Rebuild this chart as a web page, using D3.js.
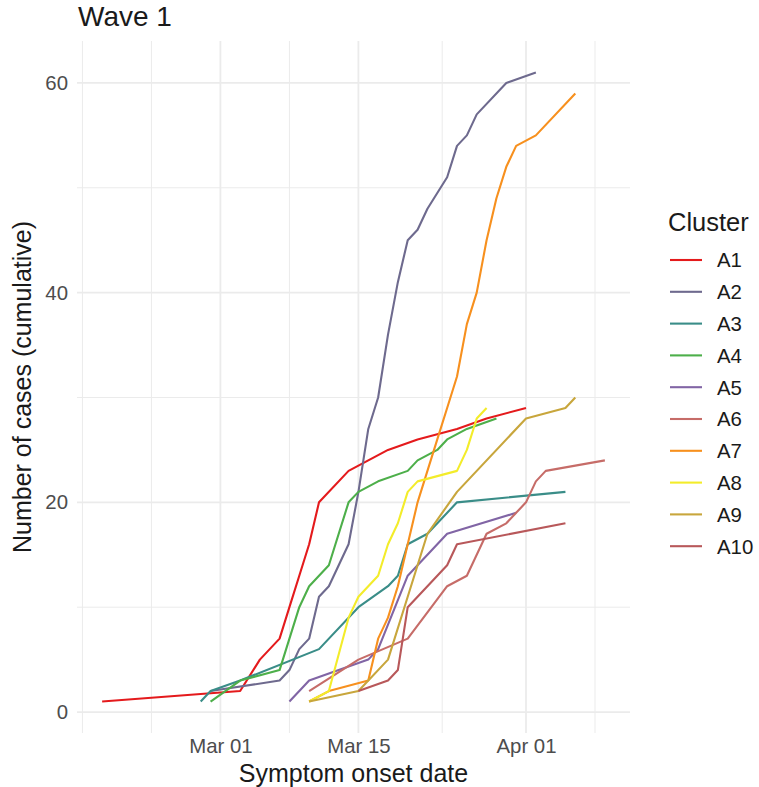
<!DOCTYPE html>
<html>
<head>
<meta charset="utf-8">
<script src="https://cdn.jsdelivr.net/npm/d3@7"></script>
<style>
  body { margin: 0; background: #fff; }
  text { font-family: "Liberation Sans", Arial, sans-serif; }
</style>
</head>
<body>
<svg width="759" height="787"></svg>
<script>
// cumulative cases per cluster, [onset date, cases]
var A1  = [["2020-02-18",1],["2020-03-03",2],["2020-03-05",5],["2020-03-07",7],["2020-03-08",10],["2020-03-09",13],["2020-03-10",16],["2020-03-11",20],["2020-03-14",23],["2020-03-16",24],["2020-03-18",25],["2020-03-21",26],["2020-03-25",27],["2020-03-28",28],["2020-04-01",29]];
var A2  = [["2020-02-29",2],["2020-03-07",3],["2020-03-08",4],["2020-03-09",6],["2020-03-10",7],["2020-03-11",11],["2020-03-12",12],["2020-03-14",16],["2020-03-15",21],["2020-03-16",27],["2020-03-17",30],["2020-03-18",36],["2020-03-19",41],["2020-03-20",45],["2020-03-21",46],["2020-03-22",48],["2020-03-24",51],["2020-03-25",54],["2020-03-26",55],["2020-03-27",57],["2020-03-30",60],["2020-04-02",61]];
var A3  = [["2020-02-28",1],["2020-02-29",2],["2020-03-03",3],["2020-03-11",6],["2020-03-15",10],["2020-03-18",12],["2020-03-19",13],["2020-03-20",16],["2020-03-22",17],["2020-03-25",20],["2020-04-05",21]];
var A4  = [["2020-02-29",1],["2020-03-03",3],["2020-03-07",4],["2020-03-08",7],["2020-03-09",10],["2020-03-10",12],["2020-03-12",14],["2020-03-14",20],["2020-03-15",21],["2020-03-17",22],["2020-03-20",23],["2020-03-21",24],["2020-03-23",25],["2020-03-24",26],["2020-03-26",27],["2020-03-29",28]];
var A5  = [["2020-03-08",1],["2020-03-10",3],["2020-03-16",5],["2020-03-17",6],["2020-03-20",13],["2020-03-24",17],["2020-03-31",19]];
var A6  = [["2020-03-10",2],["2020-03-15",5],["2020-03-20",7],["2020-03-24",12],["2020-03-26",13],["2020-03-28",17],["2020-03-30",18],["2020-03-31",19],["2020-04-01",20],["2020-04-02",22],["2020-04-03",23],["2020-04-09",24]];
var A7  = [["2020-03-10",1],["2020-03-12",2],["2020-03-16",3],["2020-03-17",7],["2020-03-18",9],["2020-03-19",12],["2020-03-20",16],["2020-03-21",20],["2020-03-23",26],["2020-03-24",29],["2020-03-25",32],["2020-03-26",37],["2020-03-27",40],["2020-03-28",45],["2020-03-29",49],["2020-03-30",52],["2020-03-31",54],["2020-04-02",55],["2020-04-06",59]];
var A8  = [["2020-03-10",1],["2020-03-12",2],["2020-03-14",9],["2020-03-15",11],["2020-03-17",13],["2020-03-18",16],["2020-03-19",18],["2020-03-20",21],["2020-03-21",22],["2020-03-25",23],["2020-03-26",25],["2020-03-27",28],["2020-03-28",29]];
var A9  = [["2020-03-10",1],["2020-03-15",2],["2020-03-18",5],["2020-03-20",11],["2020-03-22",17],["2020-03-25",21],["2020-04-01",28],["2020-04-05",29],["2020-04-06",30]];
var A10 = [["2020-03-15",2],["2020-03-18",3],["2020-03-19",4],["2020-03-20",10],["2020-03-24",14],["2020-03-25",16],["2020-04-05",18]];

var clusters = ["A1", "A2", "A3", "A4", "A5", "A6", "A7", "A8", "A9", "A10"];
var clusterData = [A1, A2, A3, A4, A5, A6, A7, A8, A9, A10];
var xTicks = ["2020-03-01", "2020-03-15", "2020-04-01"];
var yTicks = [0, 20, 40, 60];

var colors = ["#e41a1c", "#6e6a8e", "#3a8d88", "#4daf4a", "#8165a5",
              "#c66c68", "#f7901e", "#f3ec2a", "#c8a63c", "#b8585a"];

var svg = d3.select("svg"),
    margin = {top: 41, right: 129, bottom: 54, left: 77},
    width  = +svg.attr("width") - margin.left - margin.right,
    height = +svg.attr("height") - margin.top - margin.bottom;

var parseDate = d3.utcParse("%Y-%m-%d");
var fmt = d3.utcFormat("%b %d");

var series = clusters.map(function(c, i) {
  return { id: c, color: colors[i],
           values: clusterData[i].map(function(d) { return { date: parseDate(d[0]), cases: d[1] }; }) };
});
var all = d3.merge(series.map(function(s) { return s.values; }));

// ggplot style 5% expansion
var xe = d3.extent(all, function(d) { return d.date; }),
    xPad = (xe[1] - xe[0]) * 0.05;
var ye = d3.extent(all, function(d) { return d.cases; }),
    yPad = (ye[1] - ye[0]) * 0.05;

var x = d3.scaleUtc().domain([new Date(+xe[0] - xPad), new Date(+xe[1] + xPad)]).range([0, width]);
var y = d3.scaleLinear().domain([ye[0] - yPad, ye[1] + yPad]).range([height, 0]);

var xMajor = xTicks.map(parseDate);
// minor breaks: midpoints between majors, plus one step beyond each end
var step = xMajor[1] - xMajor[0];
var ext = [new Date(+xMajor[0] - step)].concat(xMajor, [new Date(+xMajor[xMajor.length - 1] + step)]);
var xMinor = [];
for (var i = 0; i < ext.length - 1; i++) {
  xMinor.push(ext[i]);
  xMinor.push(new Date((+ext[i] + +ext[i + 1]) / 2));
}
xMinor = xMinor.filter(function(d) {
  return d >= x.domain()[0] && d <= x.domain()[1] && xMajor.every(function(m) { return +m !== +d; });
});
var yMinor = [];
for (var j = 0; j < yTicks.length - 1; j++) yMinor.push((yTicks[j] + yTicks[j + 1]) / 2);

var g = svg.append("g").attr("transform", "translate(" + margin.left + "," + margin.top + ")");

var grid = g.append("g").attr("stroke", "#ebebeb").attr("fill", "none");
grid.selectAll(".ymin").data(yMinor).enter().append("line")
  .attr("x1", 0).attr("x2", width)
  .attr("y1", function(d) { return y(d); }).attr("y2", function(d) { return y(d); })
  .attr("stroke-width", 1);
grid.selectAll(".xmin").data(xMinor).enter().append("line")
  .attr("y1", 0).attr("y2", height)
  .attr("x1", function(d) { return x(d); }).attr("x2", function(d) { return x(d); })
  .attr("stroke-width", 1);
grid.selectAll(".ymaj").data(yTicks).enter().append("line")
  .attr("x1", 0).attr("x2", width)
  .attr("y1", function(d) { return y(d); }).attr("y2", function(d) { return y(d); })
  .attr("stroke-width", 1.8);
grid.selectAll(".xmaj").data(xMajor).enter().append("line")
  .attr("y1", 0).attr("y2", height)
  .attr("x1", function(d) { return x(d); }).attr("x2", function(d) { return x(d); })
  .attr("stroke-width", 1.8);

// axes (tick text only, like theme_minimal)
var xAxis = d3.axisBottom(x).tickValues(xMajor).tickFormat(fmt).tickSize(0).tickPadding(6);
var yAxis = d3.axisLeft(y).tickValues(yTicks).tickSize(0).tickPadding(9);

g.append("g").attr("class", "axis axis--x")
  .attr("transform", "translate(0," + height + ")")
  .call(xAxis);
g.append("g").attr("class", "axis axis--y")
  .call(yAxis);
g.selectAll(".axis .domain").remove();
g.selectAll(".axis text")
  .attr("fill", "#4d4d4d")
  .style("font-size", "20.4px")
  .style("font-family", "'Liberation Sans', Arial, sans-serif");

var line = d3.line()
  .x(function(d) { return x(d.date); })
  .y(function(d) { return y(d.cases); });

g.selectAll(".line").data(series).enter().append("path")
  .attr("class", "line")
  .attr("d", function(s) { return line(s.values); })
  .attr("fill", "none")
  .attr("stroke", function(s) { return s.color; })
  .attr("stroke-width", 2.1)
  .attr("stroke-linejoin", "round")
  .attr("stroke-linecap", "butt");

// titles
svg.append("text")
  .attr("x", margin.left + 1).attr("y", 26)
  .attr("fill", "#1a1a1a")
  .style("font-size", "28px")
  .text("Wave 1");

svg.append("text")
  .attr("x", margin.left + width / 2).attr("y", 782)
  .attr("text-anchor", "middle")
  .attr("fill", "#1a1a1a")
  .style("font-size", "25px")
  .text("Symptom onset date");

svg.append("text")
  .attr("transform", "translate(31," + (margin.top + height / 2) + ") rotate(-90)")
  .attr("text-anchor", "middle")
  .attr("fill", "#1a1a1a")
  .style("font-size", "25px")
  .text("Number of cases (cumulative)");

// legend
var legend = svg.append("g").attr("transform", "translate(668,0)");
legend.append("text")
  .attr("x", 0).attr("y", 231)
  .attr("fill", "#1a1a1a")
  .style("font-size", "25.5px")
  .text("Cluster");

var item = legend.selectAll(".item").data(series).enter().append("g")
  .attr("class", "item")
  .attr("transform", function(d, i) { return "translate(0," + (260 + i * 31.8) + ")"; });
item.append("line")
  .attr("x1", 2).attr("x2", 34)
  .attr("stroke", function(d) { return d.color; })
  .attr("stroke-width", 2.1);
item.append("text")
  .attr("x", 49).attr("dy", "0.36em")
  .attr("fill", "#1a1a1a")
  .style("font-size", "20.4px")
  .text(function(d) { return d.id; });
</script>
</body>
</html>
